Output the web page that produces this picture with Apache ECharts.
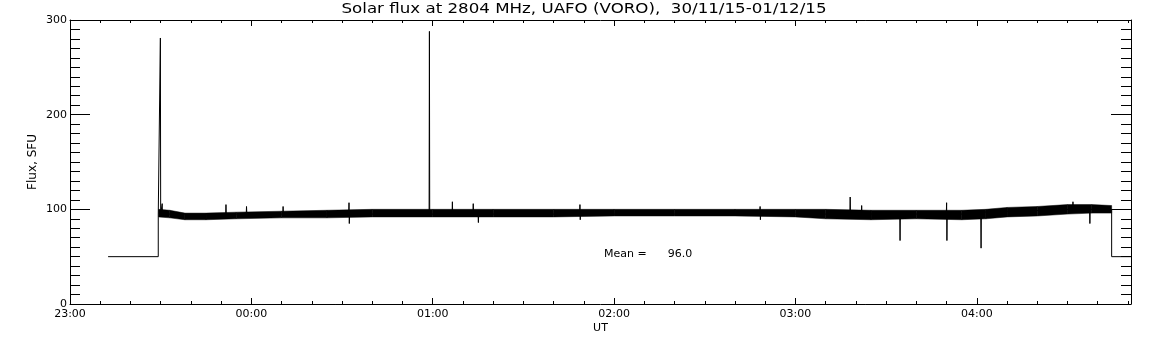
<!DOCTYPE html>
<html>
<head>
<meta charset="utf-8">
<title>Solar flux at 2804 MHz</title>
<script src="https://cdn.jsdelivr.net/npm/echarts@6/dist/echarts.min.js"></script>
<style>
  html, body { margin: 0; padding: 0; background: #fff; }
  #chart { width: 1152px; height: 345px; }
</style>
</head>
<body>
<div id="chart"></div>
<script>
// x is minutes after 23:00 UT (30/11/15)
var hourLabels = ['23:00', '00:00', '01:00', '02:00', '03:00', '04:00'];
var axisEnd = 351; // right edge is ~04:51

// main trace: the 50 SFU steps at both ends, spikes and dips
var traceTime = [12.6, 29.2, 29.2, 29.8, 29.9, 30.0,
  30.4, 30.5, 30.6, 51.5, 51.6, 51.7, 58.3, 58.4, 58.5, 70.4, 70.5, 70.6,
  92.2, 92.3, 92.4, 92.5, 118.8, 118.9, 119.0, 126.4, 126.5, 126.6,
  133.3, 133.4, 133.5, 135.0, 135.1, 135.2,
  168.6, 168.7, 168.8, 168.9, 228.2, 228.3, 228.4, 228.5,
  258.0, 258.1, 258.2, 261.8, 261.9, 262.0, 274.5, 274.6, 274.7,
  289.9, 290.0, 290.1, 290.2, 301.3, 301.4, 301.5,
  331.7, 331.8, 331.9, 337.3, 337.4, 337.5, 344.6, 344.6, 351];
var traceFlux = [50, 50, 95, 95, 281, 95,
  95, 106, 95, 95, 105, 95, 95, 103, 95, 95, 103, 95,
  95, 107, 85, 95, 95, 288, 95, 95, 108, 95,
  95, 106, 95, 95, 86, 95,
  95, 105, 89, 95, 95, 103, 89, 95,
  95, 113, 95, 95, 104, 95, 95, 67, 95,
  95, 107, 67, 95, 95, 59, 97,
  100, 108, 100, 100, 85, 100, 100, 50, 50];

// noisy band: upper and lower envelope
var bandTime = [29.3, 33, 38, 45, 55, 70, 85, 100, 120, 140, 160, 180, 200, 220,
  240, 250, 265, 280, 295, 303, 310, 320, 330, 338, 344.6];
var bandTop = [100, 99, 96, 96, 97, 98, 99, 100, 100, 100, 100, 100, 100, 100,
  100, 100, 99, 99, 99, 100, 102, 103, 105, 105, 104];
var bandBottom = [92, 91, 89, 89, 90, 91, 91, 92, 92, 92, 92, 93, 93, 93,
  92, 90, 89, 90, 89, 90, 92, 93, 95, 96, 96];

var meanFlux = 96.0;

var font = 'DejaVu Sans';

var trace = traceTime.map(function (t, i) { return [t, traceFlux[i]]; });
var bandSegments = [];
for (var i = 0; i < bandTime.length - 1; i++) {
  bandSegments.push([bandTime[i], bandTime[i + 1], bandTop[i], bandBottom[i], bandTop[i + 1], bandBottom[i + 1]]);
}

function hourLabel(v) {
  return v % 60 === 0 ? hourLabels[v / 60] : '';
}

function xAxisDef(pos, interval, tickLen, withLine, withLabel) {
  var ax = {
    type: 'value', position: pos, min: 0, max: axisEnd, interval: interval,
    axisLine: { show: withLine, onZero: false, lineStyle: { color: '#000', width: 1 } },
    axisTick: { show: true, inside: true, length: tickLen, lineStyle: { color: '#000', width: 1 } },
    axisLabel: { show: false },
    splitLine: { show: false }
  };
  if (withLabel) {
    ax.axisLabel = {
      show: true, formatter: hourLabel, margin: 5, color: '#000',
      fontFamily: font, fontSize: 11, showMinLabel: true, showMaxLabel: false
    };
    ax.name = 'UT';
    ax.nameLocation = 'middle';
    ax.nameGap = 19;
    ax.nameMoveOverlap = false;
    ax.nameTextStyle = { color: '#000', fontFamily: font, fontSize: 11 };
  }
  return ax;
}

function yAxisDef(pos, withLabel) {
  var ax = {
    type: 'value', position: pos, min: 0, max: 300, interval: 100,
    axisLine: { show: true, onZero: false, lineStyle: { color: '#000', width: 1 } },
    axisTick: { show: true, inside: true, length: 20, lineStyle: { color: '#000', width: 1 } },
    minorTick: { show: true, splitNumber: 10, length: 10, lineStyle: { color: '#000', width: 1 } },
    axisLabel: { show: false },
    splitLine: { show: false }
  };
  if (withLabel) {
    ax.axisLabel = { show: true, margin: 3, color: '#000', fontFamily: font, fontSize: 11 };
    ax.name = 'Flux, SFU';
    ax.nameLocation = 'middle';
    ax.nameGap = 31;
    ax.nameRotate = 90;
    ax.nameMoveOverlap = false;
    ax.nameTextStyle = { color: '#000', fontFamily: font, fontSize: 12 };
  }
  return ax;
}

var chart = echarts.init(document.getElementById('chart'));
chart.setOption({
  backgroundColor: '#fff',
  animation: false,
  grid: { left: 70, right: 21, top: 20, bottom: 41, containLabel: false, outerBoundsMode: 'none' },
  xAxis: [
    xAxisDef('bottom', 10, 3, true, false),
    xAxisDef('bottom', 60, 6, false, true),
    xAxisDef('top', 10, 3, true, false),
    xAxisDef('top', 60, 6, false, false)
  ],
  yAxis: [
    yAxisDef('left', true),
    yAxisDef('right', false)
  ],
  graphic: [
    {
      type: 'text', x: 584, y: 9, scaleX: 1.19,
      style: {
        text: 'Solar flux at 2804 MHz, UAFO (VORO),  30/11/15-01/12/15',
        font: '14px "DejaVu Sans"', fill: '#000', align: 'center', verticalAlign: 'middle'
      }
    },
    {
      type: 'text', x: 604, y: 254,
      style: {
        text: 'Mean =      ' + meanFlux.toFixed(1),
        font: '11px "DejaVu Sans"', fill: '#000', align: 'left', verticalAlign: 'middle'
      }
    }
  ],
  series: [
    {
      type: 'custom',
      xAxisIndex: 0, yAxisIndex: 0,
      silent: true,
      encode: { x: [0, 1], y: [2, 3, 4, 5] },
      data: bandSegments,
      renderItem: function (params, api) {
        var a = api.coord([api.value(0), api.value(2)]);
        var b = api.coord([api.value(1), api.value(4)]);
        var c = api.coord([api.value(1), api.value(5)]);
        var d = api.coord([api.value(0), api.value(3)]);
        return {
          type: 'polygon',
          shape: { points: [a, b, c, d] },
          style: { fill: '#000', stroke: '#000', lineWidth: 0.5 }
        };
      }
    },
    {
      type: 'line',
      xAxisIndex: 0, yAxisIndex: 0,
      data: trace,
      symbol: 'none',
      silent: true,
      lineStyle: { color: '#000', width: 1 }
    }
  ]
});
</script>
</body>
</html>
